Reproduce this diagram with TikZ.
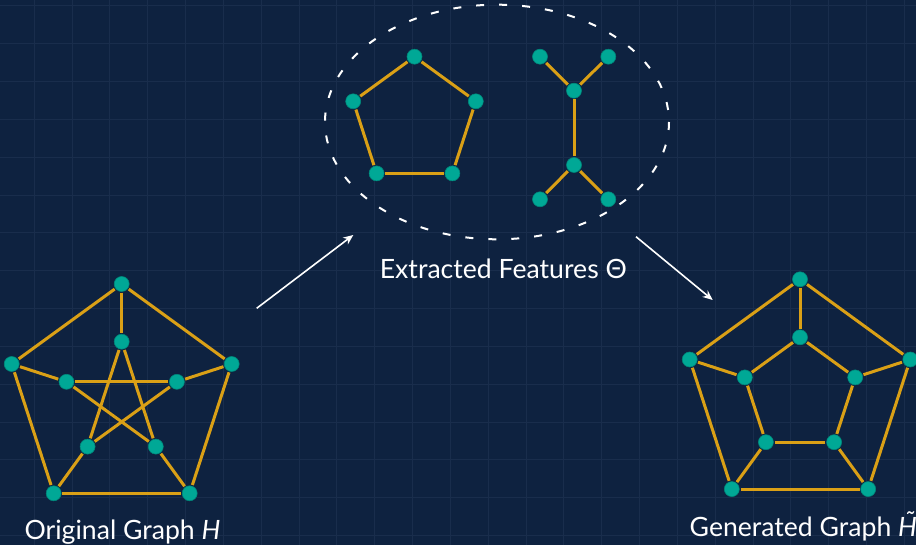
\documentclass[tikz,border=0pt]{standalone}
\usepackage{fontspec}
\setmainfont{Lato}
\usepackage{tikz}
\usetikzlibrary{arrows.meta}
\definecolor{navy}{RGB}{14,34,64}
\definecolor{gridcol}{RGB}{25,45,76}
\definecolor{gold}{RGB}{218,160,22}
\definecolor{teal}{RGB}{0,168,150}
\definecolor{tealdark}{RGB}{0,135,122}
\tikzstyle{vertex}=[circle, fill=teal, draw=tealdark, line width=0.3pt, inner sep=0pt, minimum size=7.5pt, outer sep=0.6pt]
\tikzstyle{gridline}=[draw=gridcol, line width=0.5pt]
\tikzstyle{caption}=[text=white, font=\fontsize{13.3}{16}\selectfont, inner sep=0pt]
\tikzstyle{flow}=[draw=white, line width=0.8pt, -{Stealth[length=5pt, width=4.2pt]}]
\newcommand{\vertex}{\node[vertex]}

\begin{document}
\begin{tikzpicture}[x=0.5pt, y=-0.5pt
  ,every edge/.style={draw=gold, line width=1.5pt}
]
\fill[navy] (0,0) rectangle (916,545);
\useasboundingbox (0,0) rectangle (916,545);
\foreach \i in {0,...,23} \draw[gridline] ({34.3+37.83*\i},0) -- ({34.3+37.83*\i},545);
\foreach \j in {0,...,14} \draw[gridline] (0,{6+37.83*\j}) -- (916,{6+37.83*\j});

% original graph
\vertex (ho1) at (121.7,284.0) {};
\vertex (ho2) at (231.7,364.0) {};
\vertex (ho3) at (189.7,493.3) {};
\vertex (ho4) at (53.7,493.3) {};
\vertex (ho5) at (11.7,364.0) {};
\vertex (hi1) at (121.7,341.7) {};
\vertex (hi2) at (176.9,381.8) {};
\vertex (hi3) at (155.8,446.6) {};
\vertex (hi4) at (87.6,446.6) {};
\vertex (hi5) at (66.5,381.8) {};
\path
(ho1) edge (ho2) edge (ho5) edge (hi1)
(ho3) edge (ho2) edge (ho4) edge (hi3)
(ho4) edge (ho5) edge (hi4)
(ho2) edge (hi2)
(ho5) edge (hi5)
(hi1) edge (hi3) edge (hi4)
(hi2) edge (hi4) edge (hi5)
(hi3) edge (hi5)
;
\node[caption, anchor=base] (lh) at (122.5,539) {Original Graph \textit{H}};

% extracted features
\draw[white, line width=1pt, dash pattern=on 4pt off 7.5pt] (497,122) ellipse [x radius=172, y radius=117.3];
\vertex (p1) at (414.5,56.7) {};
\vertex (p2) at (475.8,101.3) {};
\vertex (p3) at (452.4,173.4) {};
\vertex (p4) at (376.6,173.4) {};
\vertex (p5) at (353.2,101.3) {};
\vertex (t1) at (540,56.7) {};
\vertex (t2) at (608.3,56.7) {};
\vertex (t3) at (574,90.7) {};
\vertex (t4) at (574,165) {};
\vertex (t5) at (540,199.3) {};
\vertex (t6) at (608.3,199.3) {};
\path
(p1) edge (p2) (p2) edge (p3) (p3) edge (p4) (p4) edge (p5) (p5) edge (p1)
(t3) edge (t1) edge (t2) edge (t4)
(t4) edge (t5) edge (t6)
;
\node[caption, anchor=base] (lt) at (503.3,278.3) {Extracted Features Θ};

% generated graph
\vertex (go1) at (800,279.3) {};
\vertex (go2) at (910.3,359.5) {};
\vertex (go3) at (868.2,489.1) {};
\vertex (go4) at (731.8,489.1) {};
\vertex (go5) at (689.7,359.5) {};
\vertex (gi1) at (800,337.3) {};
\vertex (gi2) at (855.2,377.4) {};
\vertex (gi3) at (834.1,442.2) {};
\vertex (gi4) at (765.9,442.2) {};
\vertex (gi5) at (744.8,377.4) {};
\path
(go1) edge (go2) edge (go5) edge (gi1)
(go3) edge (go2) edge (go4) edge (gi3)
(go4) edge (go5) edge (gi4)
(go2) edge (gi2)
(go5) edge (gi5)
(gi1) edge (gi2) edge (gi5)
(gi3) edge (gi2) edge (gi4)
(gi4) edge (gi5)
;
\node[caption, anchor=base west] (lg) at (689.3,536) {Generated Graph \textit{\~{H}}};

\coordinate (a1) at (256.7,308.3);
\coordinate (a2) at (353.3,235);
\coordinate (b1) at (636,236.7);
\coordinate (b2) at (712.7,300);
\draw[flow] (a1) -- (a2);
\draw[flow] (b1) -- (b2);
\end{tikzpicture}
\end{document}
